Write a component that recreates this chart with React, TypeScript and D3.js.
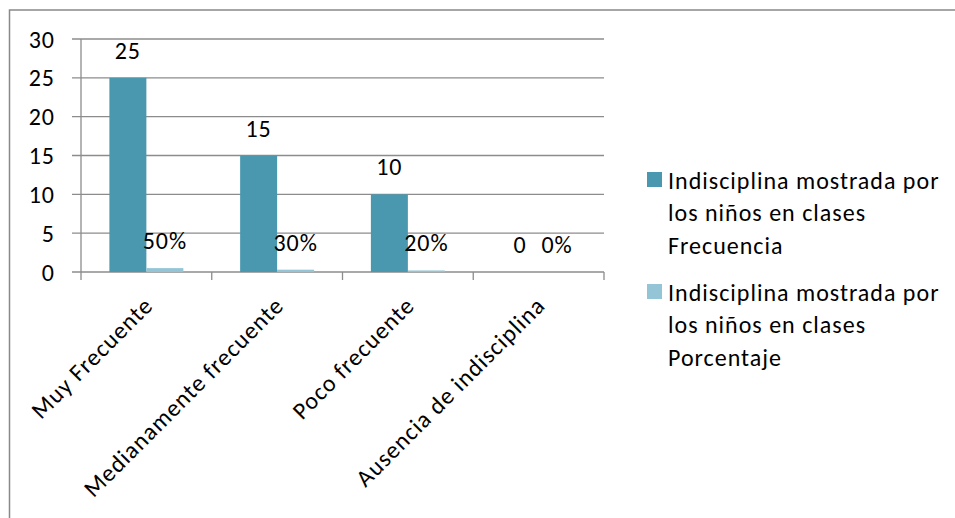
import React from "react";
import * as d3 from "d3";

const categories = ["Muy Frecuente", "Medianamente frecuente", "Poco frecuente", "Ausencia de indisciplina"];
const frecuencia = [25, 15, 10, 0];
const porcentaje = [0.5, 0.3, 0.2, 0];
const seriesNames = [
  ["Indisciplina mostrada por", "los niños en clases", "Frecuencia"],
  ["Indisciplina mostrada por", "los niños en clases", "Porcentaje"],
];
const yTicks = [0, 5, 10, 15, 20, 25, 30];
const colors = ["#4A98B0", "#93C5D6"];

const W = 955;
const H = 518;
const FONT = "Carlito, Calibri, Lato, sans-serif";
const FS = 24;
const LS = 1;

export default function App() {
  const plotL = 81, plotR = 604, plotT = 39, plotB = 272;
  const x = d3.scaleBand<string>().domain(categories).range([plotL, plotR]).padding(0);
  const xs = d3.scaleBand<string>().domain(["f", "p"]).range([0, x.bandwidth()]).paddingInner(0).paddingOuter(0.767);
  const y = d3.scaleLinear().domain([0, 30]).range([plotB, plotT]);
  const grid = "#8C8C8C";

  const series = [
    { key: "f", values: frecuencia, fmt: (v: number) => String(v) },
    { key: "p", values: porcentaje, fmt: (v: number) => `${Math.round(v * 100)}%` },
  ];

  return (
    <svg width={W} height={H} style={{ position: "absolute", left: 0, top: 0, background: "#fff" }} fontFamily={FONT} letterSpacing={LS}>
      <rect x={0} y={0} width={W} height={H} fill="#fff" />
      <rect x={9.5} y={10} width={W + 20} height={H + 20} fill="none" stroke="#898989" strokeWidth={1.5} />
      {yTicks.map((t) => (
        <g key={t}>
          <line x1={plotL - 9} x2={plotR} y1={y(t)} y2={y(t)} stroke={grid} strokeWidth={1.3} />
          <text x={55} y={y(t)} dy="0.36em" textAnchor="end" fontSize={FS} fill="#000">{t}</text>
        </g>
      ))}
      <line x1={plotL} x2={plotL} y1={plotT} y2={plotB} stroke={grid} strokeWidth={1.3} />
      {[...categories.map((c) => x(c)!), plotR].map((v, i) => (
        <line key={i} x1={v} x2={v} y1={plotB} y2={plotB + 8} stroke={grid} strokeWidth={1.3} />
      ))}
      {series.map((s, si) =>
        s.values.map((v, i) => {
          const bx = x(categories[i])! + xs(s.key)!;
          return (
            <g key={`${si}-${i}`}>
              <rect x={bx} y={y(v)} width={xs.bandwidth()} height={plotB - y(v)} fill={colors[si]} />
              <text x={bx + xs.bandwidth() / 2} y={y(v) - 19} textAnchor="middle" fontSize={FS} fill="#000">{s.fmt(v)}</text>
            </g>
          );
        })
      )}
      {categories.map((c) => {
        const cx = x(c)! + x.bandwidth() / 2;
        return (
          <text key={c} transform={`translate(${cx + 8},${plotB + 35}) rotate(-45)`} textAnchor="end" fontSize={FS} fill="#000">{c}</text>
        );
      })}
      {seriesNames.map((lines, si) => (
        <g key={si} transform={`translate(647,${172 + si * 112})`}>
          <rect x={0} y={0} width={15} height={15} fill={colors[si]} />
          {lines.map((ln, li) => (
            <text key={li} x={21} y={8 + li * 32.5} dy="0.36em" fontSize={FS} fill="#000">{ln}</text>
          ))}
        </g>
      ))}
    </svg>
  );
}
